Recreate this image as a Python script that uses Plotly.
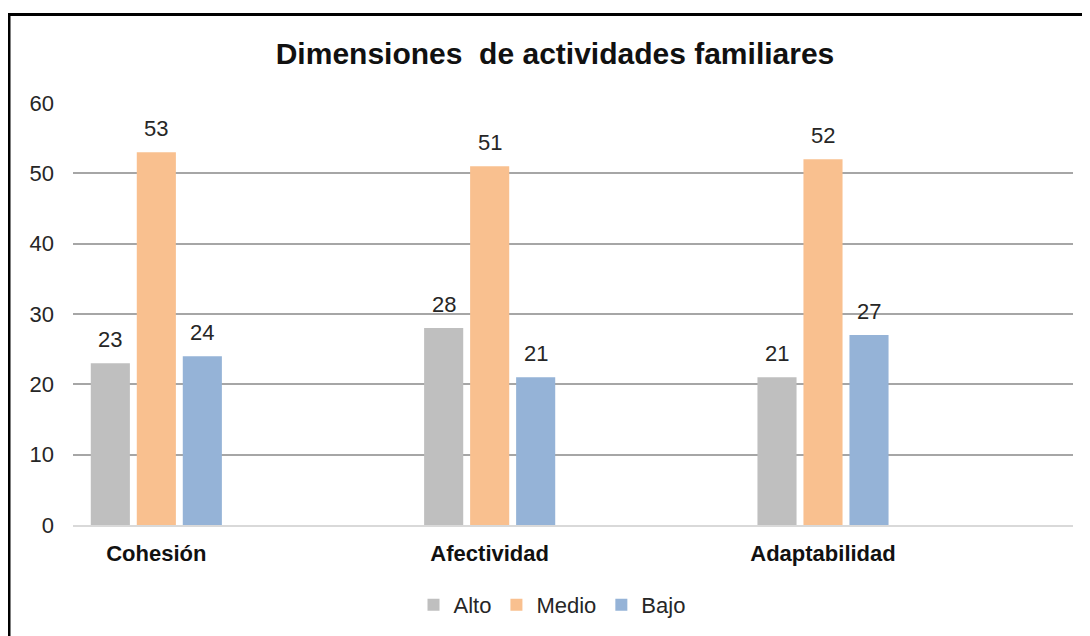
import plotly.graph_objects as go

categories = ["Cohesión", "Afectividad", "Adaptabilidad"]
alto = [23, 28, 21]
medio = [53, 51, 52]
bajo = [24, 21, 27]
series_names = ["Alto", "Medio", "Bajo"]
colors = ["#BFBFBF", "#F9C08F", "#95B3D7"]
y_ticks = [0, 10, 20, 30, 40, 50, 60]

# page body has an 8px margin: screen = figure + 8
OFF = 8
W, H = 1090, 636
L = 73 - OFF
T = 103 - OFF
R = W - (1073 - OFF)
B = H - (525 - OFF)
PW, PH = W - L - R, H - T - B

xpos = list(range(len(categories)))
font_main = "Liberation Sans, Arial, sans-serif"
BARGAP = 0.586
GROUPGAP = 0.15

fig = go.Figure()
all_vals = [alto, medio, bajo]
for name, vals, col in zip(series_names, all_vals, colors):
    fig.add_trace(go.Bar(
        x=xpos, y=vals, name=name,
        marker=dict(color=col, line=dict(width=0)),
        cliponaxis=False,
    ))

# data labels placed above bars, aligned to grouped bar slots
slot = (1 - BARGAP) / len(series_names)
for k, vals in enumerate(all_vals):
    for i, v in enumerate(vals):
        fig.add_annotation(
            x=xpos[i] + (k - (len(series_names) - 1) / 2) * slot, y=v,
            xref="x", yref="y", text=str(v), showarrow=False,
            yanchor="bottom", yshift=9,
            font=dict(family=font_main, size=22, color="#262626"))

def sx(px):
    return (px - OFF - L) / PW

def sy(py):
    return (H - B - (py - OFF)) / PH

fig.update_layout(
    width=W, height=H,
    margin=dict(l=L, r=R, t=T, b=B),
    paper_bgcolor="white", plot_bgcolor="white",
    barmode="group", bargap=BARGAP, bargroupgap=GROUPGAP,
    font=dict(family=font_main, color="#262626"),
    title=dict(text="<b>Dimensiones  de actividades familiares</b>",
               x=(555 - OFF) / W, xanchor="center", y=1 - (53 - OFF) / H,
               yanchor="middle",
               font=dict(size=30, color="#111111", family=font_main)),
    xaxis=dict(range=[-0.25, 2.75], tickmode="array", tickvals=xpos,
               ticktext=["<b>%s</b>" % c for c in categories],
               tickfont=dict(size=22, color="#111111"), showgrid=False,
               showline=True, linecolor="#D9D9D9", linewidth=2, ticks="",
               ticklabelstandoff=8, zeroline=False),
    yaxis=dict(range=[0, 60], tickmode="array", tickvals=y_ticks,
               tickfont=dict(size=22, color="#262626"), showgrid=True,
               gridcolor="#A6A6A6", gridwidth=2, zeroline=False,
               showline=False, ticks="", ticklabelstandoff=18),
    legend=dict(orientation="h", x=sx(552), xanchor="center",
                y=sy(605), yanchor="middle",
                font=dict(size=22, color="#262626"), itemwidth=30,
                traceorder="normal", tracegroupgap=0, bgcolor="rgba(0,0,0,0)"),
    showlegend=True,
)

fig.add_shape(type="rect", xref="paper", yref="paper",
              x0=sx(9), x1=sx(1110),
              y0=sy(680), y1=sy(14.5),
              line=dict(color="black", width=3), fillcolor="rgba(0,0,0,0)",
              layer="above")

fig.write_html("out.html")
